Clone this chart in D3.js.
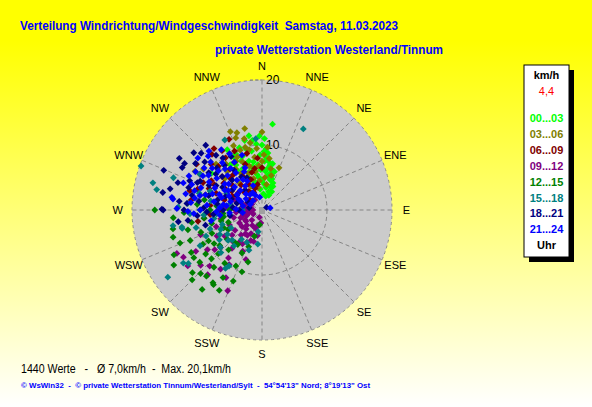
<!DOCTYPE html>
<html>
<head>
<meta charset="utf-8">
<script src="https://cdn.jsdelivr.net/npm/d3@7"></script>
<style>
  body { margin: 0; }
  svg { display: block; font-family: "Liberation Sans", Arial, sans-serif; }
  text { white-space: pre; }
</style>
</head>
<body>
<div id="chart"></div>
<script>
// chart size and polar frame
const width = 592, height = 407;
const cx = 262, cy = 210, R = 130;

// compass points, speed rings
const directions = ["N","NNE","NE","ENE","E","ESE","SE","SSE","S","SSW","SW","WSW","W","WNW","NW","NNW"];
const speedTicks = [10, 20];
const hourGroups = ["00...03","03...06","06...09","09...12","12...15","15...18","18...21","21...24"];
const colors = ["#00ff00","#808000","#800000","#800080","#008000","#008080","#000080","#0000ff"];

// [direction in degrees, speed km/h]
const hours00 = [[7,13.3],[330,10.7],[306,9.6],[335,9.5],[340,8.8],[345,9.8],[350,9.2],[355,10.2],[358,8.5],[2,9],[5,8],[8,7.5],[10,7],[12,6.5],[14,6],[16,5.5],[18,5],[22,4.5],[25,4],[20,3.8],[15,4.8],[10,5.5],[5,6],[0,6.5],[355,7],[350,7.5],[345,7.8],[340,7.2],[335,7],[330,8],[325,8.5],[320,9],[350,6],[355,5],[0,4.5],[5,4],[10,3.5],[20,3],[28,3.2],[25,2.5],[12,5.2],[8,6.5],[3,7.5],[358,6.2],[352,5.5],[347,6.8],[342,6.2],[337,8.2],[332,9.2],[328,7.2],[6,8.8],[4,9.5],[0,10],[352,10.8],[346,11],[340,10.2],[15,2.2],[5,2.5],[355,3.2],[345,4.5],[338,5.2],[18,6.2],[13,7.3],[2,11],[358,11.4],[350,11.6]];
const hours03 = [[342,12.5],[340,11.8],[346,11.3],[5,9.7],[22,7],[0,7.5],[352,8.2],[348,9.5],[335,9],[330,10],[300,11.9],[305,11],[315,10],[322,9],[338,8],[344,7],[350,6],[356,6.8],[2,8.5],[8,8],[12,6.5],[15,5.5],[355,9.5],[350,10.5],[345,10],[340,9.8],[336,10.8],[332,8.5],[327,7.5],[318,8],[310,7.5],[340,6],[330,6.5],[355,4.5],[5,5],[345,5],[320,5.5],[335,4],[350,3.5],[10,4],[0,12],[348,12.8],[338,13]];
const hours06 = [[326,11],[0,6.5],[305,12.3],[278,11],[300,9],[310,8],[320,7],[330,6],[340,5],[350,4],[290,7.5],[285,6],[295,5],[305,4.5],[315,4],[325,3.5],[335,3],[300,6.5],[310,6],[320,5],[330,8.5],[340,7.5],[345,9],[315,9.5],[295,10],[285,9],[275,8],[280,5],[270,6.5],[290,3.5],[310,2.5],[335,10],[355,8],[325,9.8],[315,6.8],[305,7.2],[298,8.3],[288,10.4],[318,11.5],[345,6],[285,11.5],[300,11],[312,10.5],[322,12],[335,12],[292,8.8],[302,5.5],[322,8],[342,3.5],[332,4.5],[280,3],[270,4],[265,8],[260,10],[295,2],[350,6.5]];
const hours09 = [[270,1.4],[225,2.2],[233,5.2],[243,14.7],[239,14.1],[203,13.5],[208,11.8],[215,11.1],[223,11.8],[233,14.3],[234,10.4],[222,6.6],[211,9.8],[228,8.6],[240,8],[250,7.5],[215,4.5],[205,4],[200,3],[195,5],[210,6],[220,5],[230,4],[240,3],[250,2.5],[260,2],[280,2],[300,1.8],[325,1.9],[287,2.7],[245,5.5],[255,4.5],[265,4],[235,7],[218,7.5],[205,7],[198,8],[225,3.3],[212,2.8],[245,1.5],[200,1.2],[230,9.5],[248,10.2],[258,6.5],[262,9],[275,5.5],[290,4.5],[238,12],[220,13],[228,12.7],[215,9],[235,3],[220,3.8],[210,4.5],[240,4],[250,3.5],[230,6],[215,6],[205,5.5],[255,3],[260,3],[270,2.5],[195,2.5],[185,2],[190,4],[200,5]];
const hours12 = [[270,16.5],[265,13.7],[258,14],[253,14.3],[239,12.7],[230,12.5],[228,14.4],[217,15.3],[213,13.7],[198,10],[195,8.3],[205,7.3],[189,2.3],[196,4.2],[243,15.2],[248,13.6],[225,15.2],[224,13.6],[214,13.5],[210,12],[220,11.5],[232,11],[240,10.5],[250,10],[260,11],[268,12],[262,9],[255,8],[245,8.5],[235,9],[225,9.5],[215,10],[205,9.5],[200,6],[220,6.5],[230,7],[240,6],[250,5.5],[260,6],[270,8],[275,10],[235,12.8],[220,13.3],[208,14],[238,16],[255,11.8],[247,12],[226,10.8],[202,11.8],[265,6],[255,6.5],[245,6.5],[215,6.5],[270,5],[275,7],[280,9],[220,8],[230,8.5],[240,9.5]];
const hours15 = [[290,19.8],[284,17.3],[281,16.5],[290,14.5],[234.5,17.8],[257,12.6],[234,14],[236,14.6],[332,12.2],[355,11],[27,14],[190,3.4],[187,5.3],[210.5,10],[212,10.6],[224,9.1],[228,8.6],[267,11.1],[258,12.6],[260,13.9],[272,12.9],[275,11.5],[265,9],[260,7.5],[250,6.5],[240,5.5],[245,9.5],[235,8],[255,10.5],[270,9.5],[280,8],[285,10],[295,6],[300,11],[262,5],[240,11],[218,7],[205,5.5],[198,6.5],[275,6.5],[290,8.5],[245,7],[235,6.5],[228,7],[265,7],[280,5],[270,3],[250,8.5],[240,7.5],[225,6.5],[215,5.5]];
const hours18 = [[319,13.2],[292,16.3],[270,15.2],[301,13.9],[262,13],[280,15.5],[270.5,15.4],[276,12.8],[313,12.8],[298,13.9],[275,11.6],[310,11.5],[305,10],[295,9],[285,8.5],[278,7],[270,6],[290,6],[300,7],[310,8],[320,9],[315,6.5],[325,7.5],[300,4.5],[285,4],[270,3.5],[265,10],[272,9],[282,11],[292,12],[288,13.6],[305,12.5],[320,11],[330,9.5],[280,2],[60,0.8],[265,7.5],[255,9],[295,10.5],[283,14.5],[310,13.7],[302,15],[275,4.5],[290,5],[305,5.5],[320,4],[335,5.5],[268,8.5],[283,7],[298,8],[313,9.5],[328,6],[260,5],[262,11.5],[278,9.8],[293,10.8],[308,9],[323,10],[270,12],[287,11.8],[300,2.5],[330,3]];
const hours21 = [[289,12.8],[277,13.8],[269,11.4],[309,12.7],[315,11.7],[295,12.4],[278,14],[271,13.1],[76,1.3],[300,10.5],[310,10],[320,9.5],[330,8.5],[290,10],[280,10.5],[285,9],[295,8],[305,8.5],[315,7.5],[325,7],[335,6.5],[300,6],[290,7],[280,7.5],[275,8.5],[270,9.5],[268,7],[285,5],[295,4],[305,3],[315,3.5],[325,4.5],[340,4],[310,5.5],[320,6],[300,11.8],[312,9],[290,11.5],[282,12],[305,7],[298,9.2],[287,6.5],[277,5.5],[272,4],[265,5],[262,3],[330,10],[340,9],[350,2],[318,12.2],[282,3],[292,3.5],[302,4.5],[312,4.5],[322,3],[332,3],[278,6],[288,8],[298,6.5],[308,6.5],[318,8.5],[328,5.5],[338,7],[283,9.8],[293,5.5],[303,9.8],[313,10.8],[323,8],[333,5],[273,6.5],[263,6.5],[258,8],[267,10.5],[276,11],[296,2],[316,2],[336,2.5],[286,10.8],[306,11],[326,11.2]];
const series = [hours00, hours03, hours06, hours09, hours12, hours15, hours18, hours21];

const title = "Verteilung Windrichtung/Windgeschwindigkeit  Samstag, 11.03.2023";
const subtitle = "private Wetterstation Westerland/Tinnum";
const stats = "1440 Werte   -   \u00d8 7,0km/h  -  Max. 20,1km/h";
const credit = "\u00a9 WsWin32  -  \u00a9 private Wetterstation Tinnum/Westerland/Sylt  -  54\u00b054'13\" Nord; 8\u00b019'13\" Ost";
const current = "4,4";

const svg = d3.select("#chart")
  .append("svg")
  .attr("width", width)
  .attr("height", height);

// yellow to white background
const grad = svg.append("defs").append("linearGradient")
  .attr("id", "bg").attr("x1", 0).attr("y1", 0).attr("x2", 0).attr("y2", 1);
grad.append("stop").attr("offset", 0).attr("stop-color", "#ffff00");
grad.append("stop").attr("offset", 0.1).attr("stop-color", "#ffff00");
grad.append("stop").attr("offset", 1).attr("stop-color", "#ffffff");
svg.append("rect").attr("width", width).attr("height", height).attr("fill", "url(#bg)");

// scales
const angle = d3.scaleLinear().domain([0, 360]).range([0, 2 * Math.PI]);
const r = d3.scaleLinear().domain([0, 20]).range([0, R]);
const px = (deg, v) => cx + r(v) * Math.sin(angle(deg));
const py = (deg, v) => cy - r(v) * Math.cos(angle(deg));

// disc + grid
svg.append("circle").attr("cx", cx).attr("cy", cy).attr("r", r(20))
  .attr("fill", "#cbcbcb").attr("stroke", "#8c8c8c").attr("stroke-dasharray", "3,3");
svg.append("circle").attr("cx", cx).attr("cy", cy).attr("r", r(10))
  .attr("fill", "none").attr("stroke", "#858585").attr("stroke-dasharray", "4,3");

const dirStep = 360 / directions.length;
svg.append("g").selectAll("line")
  .data(directions)
  .join("line")
  .attr("x1", (d, i) => px(i * dirStep, 1))
  .attr("y1", (d, i) => py(i * dirStep, 1))
  .attr("x2", (d, i) => px(i * dirStep, 20))
  .attr("y2", (d, i) => py(i * dirStep, 20))
  .attr("stroke", "#858585")
  .attr("stroke-dasharray", "4,3");

svg.append("rect").attr("x", cx - 3).attr("y", cy - 3).attr("width", 6).attr("height", 7)
  .attr("fill", "#a0a0a0");

// speed ticks on the north axis
const ticks = svg.append("g");
ticks.selectAll("line").data(speedTicks).join("line")
  .attr("x1", cx - 12).attr("x2", cx)
  .attr("y1", d => py(0, d)).attr("y2", d => py(0, d))
  .attr("stroke", "#858585").attr("stroke-dasharray", "3,2");
ticks.selectAll("text").data(speedTicks).join("text")
  .attr("x", cx + 4).attr("y", d => py(0, d))
  .attr("dy", "0.35em")
  .attr("font-size", 12)
  .text(d => d);

// compass labels
svg.append("g").selectAll("text")
  .data(directions)
  .join("text")
  .attr("x", (d, i) => px(i * dirStep, 22.2))
  .attr("y", (d, i) => py(i * dirStep, 22.2))
  .attr("dy", "0.35em")
  .attr("text-anchor", "middle")
  .attr("font-size", 11)
  .text(d => d);

// wind points, one diamond per reading, oldest first
const diamond = "M0,-3.4L3.4,0L0,3.4L-3.4,0Z";
series.forEach((pts, k) => {
  svg.append("g").selectAll("path")
    .data(pts)
    .join("path")
    .attr("d", diamond)
    .attr("transform", d => `translate(${px(d[0], d[1])},${py(d[0], d[1])})`)
    .attr("fill", colors[k]);
});

// titles
svg.append("text").attr("x", 20).attr("y", 30)
  .attr("font-size", 13).attr("font-weight", "bold").attr("fill", "#0000ff")
  .attr("textLength", 378).attr("lengthAdjust", "spacingAndGlyphs")
  .text(title);
svg.append("text").attr("x", 215).attr("y", 54)
  .attr("font-size", 13).attr("font-weight", "bold").attr("fill", "#0000ff")
  .attr("textLength", 228).attr("lengthAdjust", "spacingAndGlyphs")
  .text(subtitle);

// legend box
const lx = 524, ly = 65, lw = 45, lh = 192;
svg.append("rect").attr("x", lx + 5).attr("y", ly + 5).attr("width", lw).attr("height", lh).attr("fill", "#000");
svg.append("rect").attr("x", lx).attr("y", ly).attr("width", lw).attr("height", lh)
  .attr("fill", "#fff").attr("stroke", "#000");
const lcx = lx + lw / 2;
svg.append("text").attr("x", lcx).attr("y", 79).attr("text-anchor", "middle")
  .attr("font-size", 11).attr("font-weight", "bold").text("km/h");
svg.append("text").attr("x", lcx).attr("y", 95).attr("text-anchor", "middle")
  .attr("font-size", 11).attr("fill", "#ff0000").text(current);
svg.append("g").selectAll("text")
  .data(hourGroups)
  .join("text")
  .attr("x", lcx)
  .attr("y", (d, i) => 122 + i * 15.9)
  .attr("text-anchor", "middle")
  .attr("font-size", 11)
  .attr("font-weight", "bold")
  .attr("fill", (d, i) => colors[i])
  .text(d => d);
svg.append("text").attr("x", lcx).attr("y", 249).attr("text-anchor", "middle")
  .attr("font-size", 11).attr("font-weight", "bold").text("Uhr");

// footer
svg.append("text").attr("x", 21).attr("y", 373)
  .attr("font-size", 12)
  .attr("textLength", 210).attr("lengthAdjust", "spacingAndGlyphs")
  .text(stats);
svg.append("text").attr("x", 21).attr("y", 388)
  .attr("font-size", 8).attr("font-weight", "bold").attr("fill", "#0000ff")
  .attr("textLength", 349).attr("lengthAdjust", "spacingAndGlyphs")
  .text(credit);
</script>
</body>
</html>
